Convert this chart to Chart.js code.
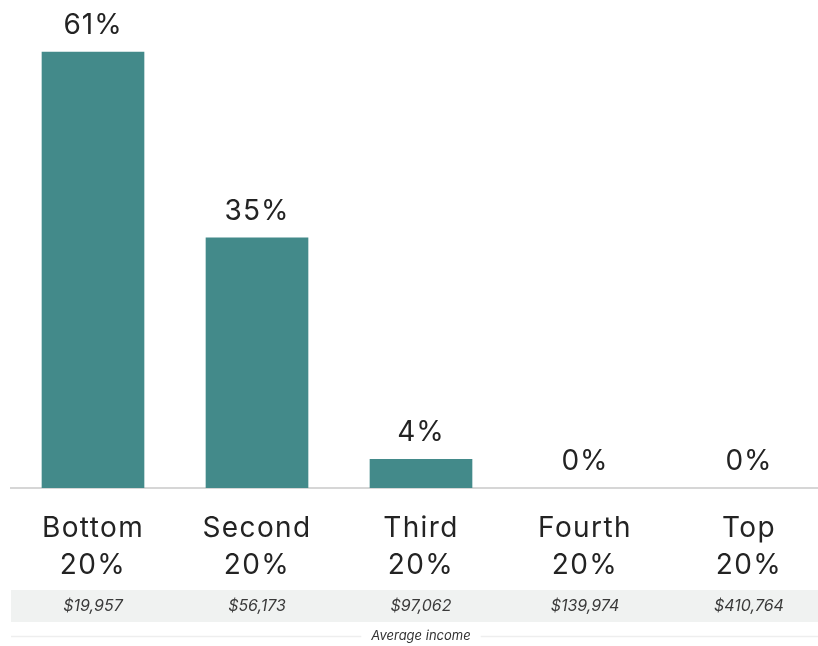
<!DOCTYPE html>
<html>
<head>
<meta charset="utf-8">
<style>
  html, body { margin: 0; padding: 0; background: #ffffff; }
  #wrap { width: 818px; height: 646px; position: relative; }
</style>
<script src="https://cdn.jsdelivr.net/npm/chart.js@4/dist/chart.umd.min.js"></script>
</head>
<body>
<div id="wrap"><canvas id="chart" width="818" height="646"></canvas></div>
<script>
// Income groups (two-line labels), share of each group, average income per group
const groups = [['Bottom', '20%'], ['Second', '20%'], ['Third', '20%'], ['Fourth', '20%'], ['Top', '20%']];
const shares = [61, 35, 4, 0, 0];
const incomes = ['$19,957', '$56,173', '$97,062', '$139,974', '$410,764'];
const incomeCaption = 'Average income';

const TEAL = '#438a8a';
const TEXT = '#232323';
const FONT = 'Inter, "Open Sans", sans-serif';

const SLOT = 164;            // width of one group slot, px
const PLOT_LEFT = 11;
const CANVAS_W = 818;

// wider tracking for all canvas text
const tracking = {
  id: 'tracking',
  beforeDraw(chart) { chart.ctx.letterSpacing = '1.4px'; }
};

// value labels above each bar
const barValueLabels = {
  id: 'barValueLabels',
  afterDatasetsDraw(chart) {
    const ctx = chart.ctx;
    const meta = chart.getDatasetMeta(0);
    ctx.save();
    ctx.letterSpacing = '1px';
    ctx.font = '400 28px ' + FONT;
    ctx.fillStyle = TEXT;
    ctx.textAlign = 'center';
    ctx.textBaseline = 'alphabetic';
    meta.data.forEach((el, i) => {
      ctx.fillText(shares[i] + '%', el.x, el.y - 18);
    });
    ctx.restore();
  }
};

// shaded strip of average incomes and its caption line
const incomeStrip = {
  id: 'incomeStrip',
  afterDraw(chart) {
    const ctx = chart.ctx;
    const x = chart.scales.x;
    const left = chart.chartArea.left;
    const right = chart.width;
    ctx.save();
    ctx.letterSpacing = '0px';
    ctx.fillStyle = '#f0f2f1';
    ctx.fillRect(left, 590, right - left, 32);

    ctx.font = 'italic 400 16px ' + FONT;
    ctx.fillStyle = '#3a3a3a';
    ctx.textAlign = 'center';
    ctx.textBaseline = 'middle';
    incomes.forEach((t, i) => {
      ctx.fillText(t, x.getPixelForValue(i), 606);
    });

    const cx = x.getPixelForValue(2);
    ctx.font = 'italic 400 13px ' + FONT;
    ctx.fillStyle = '#333333';
    ctx.fillText(incomeCaption, cx, 636);
    const half = ctx.measureText(incomeCaption).width / 2 + 10;
    ctx.strokeStyle = '#eeeeee';
    ctx.lineWidth = 1.5;
    ctx.beginPath();
    ctx.moveTo(left, 636.5); ctx.lineTo(cx - half, 636.5);
    ctx.moveTo(cx + half, 636.5); ctx.lineTo(right, 636.5);
    ctx.stroke();
    ctx.restore();
  }
};

new Chart(document.getElementById('chart'), {
  type: 'bar',
  data: {
    datasets: [{
      data: shares.map((v, i) => ({ x: i, y: v })),
      backgroundColor: shares.map(v => v > 0 ? TEAL : 'rgba(0,0,0,0)'),
      borderWidth: 0,
      barThickness: 102
    }]
  },
  options: {
    responsive: false,
    animation: false,
    layout: { padding: { left: PLOT_LEFT, right: 0, top: 0, bottom: 0 } },
    plugins: { legend: { display: false }, tooltip: { enabled: false } },
    scales: {
      x: {
        type: 'linear',
        offset: false,
        bounds: 'ticks',
        min: -0.5,
        max: -0.5 + (CANVAS_W - PLOT_LEFT) / SLOT,
        grid: { display: false, drawTicks: false, offset: false },
        border: { display: true, color: '#d6d6d6', width: 2 },
        afterBuildTicks(scale) {
          scale.ticks = groups.map((g, i) => ({ value: i }));
        },
        afterFit(scale) { scale.height = 158; },
        ticks: {
          padding: 22,
          autoSkip: false,
          maxRotation: 0,
          color: TEXT,
          font: { family: FONT, size: 28, weight: '400', lineHeight: 1.32 },
          callback: (v) => groups[v]
        }
      },
      y: {
        display: false,
        min: 0,
        max: 68.3
      }
    }
  },
  plugins: [tracking, barValueLabels, incomeStrip]
});
</script>
</body>
</html>
